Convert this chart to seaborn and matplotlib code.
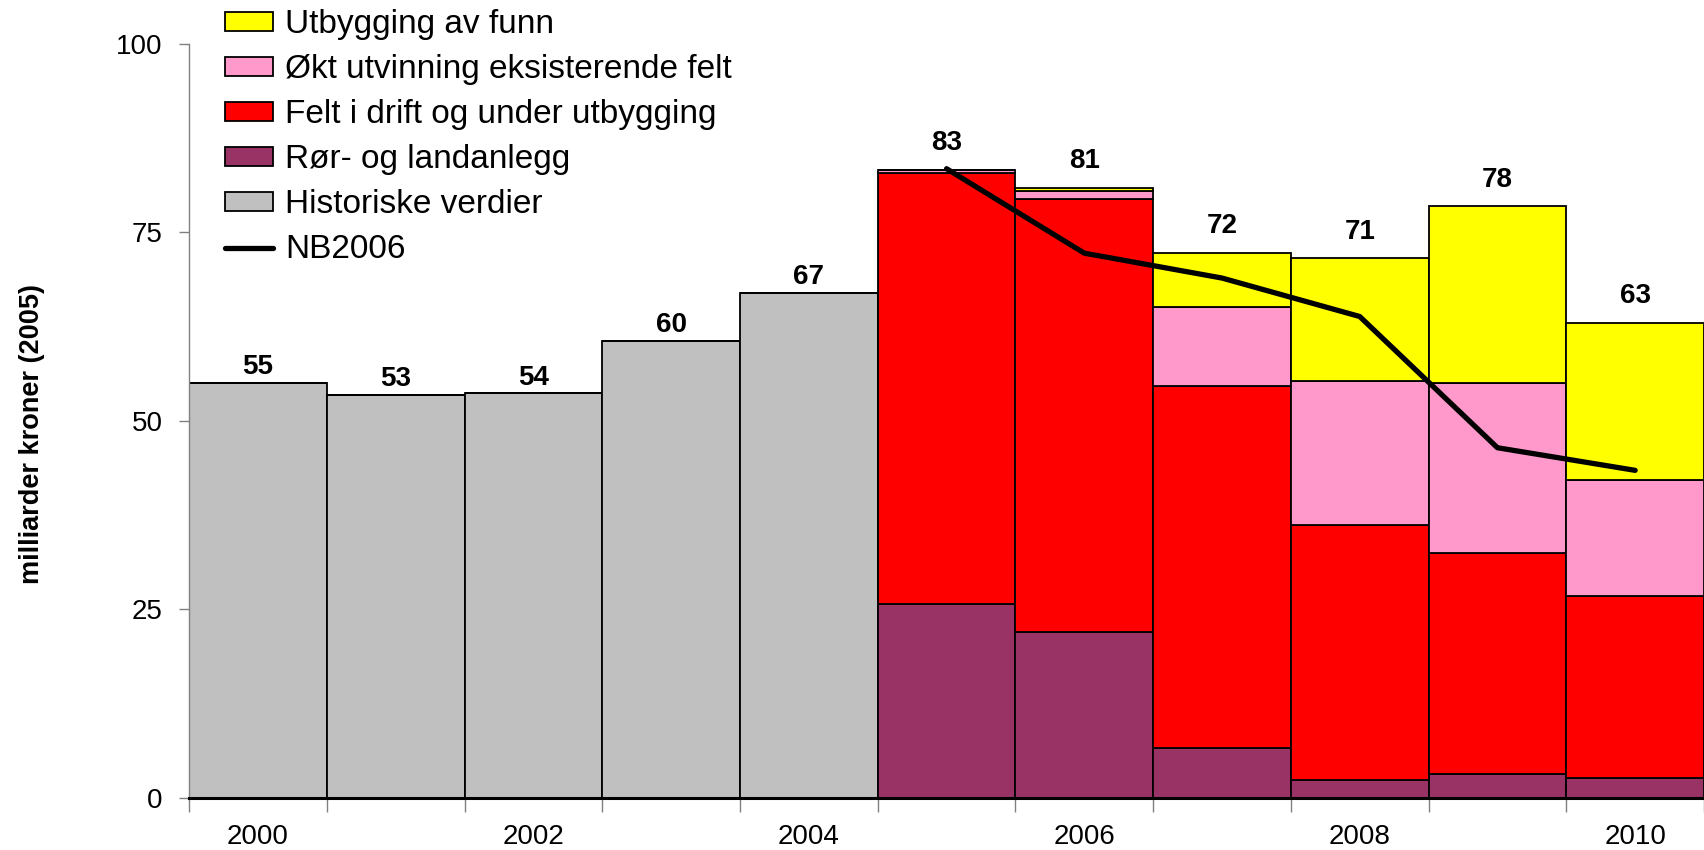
import matplotlib
matplotlib.use("Agg")
import matplotlib.pyplot as plt
import matplotlib.patches as mpatches
import matplotlib.lines as mlines
import seaborn as sns
import pandas as pd
import numpy as np

# data (milliarder kroner, 2005-kroner)
years = [2000, 2001, 2002, 2003, 2004, 2005, 2006, 2007, 2008, 2009, 2010]
historiske = [55.0, 53.4, 53.6, 60.6, 66.9, 0, 0, 0, 0, 0, 0]
ror = [0, 0, 0, 0, 0, 25.7, 22.0, 6.6, 2.3, 3.2, 2.6]
felt = [0, 0, 0, 0, 0, 57.1, 57.4, 48.0, 33.9, 29.2, 24.1]
okt = [0, 0, 0, 0, 0, 0.4, 1.0, 10.5, 19.0, 22.6, 15.4]
utbygging = [0, 0, 0, 0, 0, 0.0, 0.5, 7.1, 16.3, 23.4, 20.9]
bar_labels = ["55", "53", "54", "60", "67", "83", "81", "72", "71", "78", "63"]

nb_years = [2005, 2006, 2007, 2008, 2009, 2010]
nb2006 = [83.4, 72.2, 68.9, 63.8, 46.4, 43.4]

cats = ["Utbygging av funn", "Økt utvinning eksisterende felt",
        "Felt i drift og under utbygging", "Rør- og landanlegg",
        "Historiske verdier"]
colors = ["#FFFF00", "#FF99CC", "#FF0000", "#993366", "#C0C0C0"]

long = pd.DataFrame({
    "year": years * 5,
    "value": utbygging + okt + felt + ror + historiske,
    "kategori": np.repeat(cats, len(years)),
})

sns.set_style("white")
plt.rcParams["font.family"] = ["Liberation Sans", "DejaVu Sans"]
plt.rcParams["text.color"] = "black"
plt.rcParams["xtick.labelcolor"] = "black"
plt.rcParams["ytick.labelcolor"] = "black"

fig = plt.figure(figsize=(17.04, 8.5), dpi=100)
ax = fig.add_axes([0.111, 0.0616, 0.889, 0.8872])

sns.histplot(data=long, x="year", weights="value", hue="kategori",
             hue_order=cats, palette=dict(zip(cats, colors)),
             multiple="stack", discrete=True, shrink=1, element="bars",
             alpha=1, edgecolor="black", linewidth=1.3, legend=False, ax=ax)

sns.lineplot(x=nb_years, y=nb2006, color="black", linewidth=3.8, ax=ax)

totals = np.array(historiske) + np.array(ror) + np.array(felt) + np.array(okt) + np.array(utbygging)
for yr, tot, lab in zip(years, totals, bar_labels):
    off = 2 if yr < 2005 else 10
    ax.annotate(lab, (yr, tot), xytext=(0, off), textcoords="offset points",
                ha="center", va="bottom", fontsize=20, fontweight="bold",
                color="black")

ax.set_xlim(1999.5, 2010.46)
ax.set_ylim(0, 100)
ax.set_yticks([0, 25, 50, 75, 100])
ax.tick_params(axis="y", labelsize=20, length=7, width=1, color="#808080",
               direction="out", pad=12, left=True, labelcolor="black")
ax.set_xticks(np.arange(1999.5, 2011, 1))
ax.set_xticklabels([])
ax.tick_params(axis="x", which="major", length=10, width=1, color="#808080",
               direction="out", bottom=True)
ax.set_xticks([2000, 2002, 2004, 2006, 2008, 2010], minor=True)
ax.set_xticklabels(["2000", "2002", "2004", "2006", "2008", "2010"], minor=True)
ax.tick_params(axis="x", which="minor", length=0, labelsize=20, pad=19,
               labelcolor="black")
ax.set_xlabel("")
ax.set_ylabel("")
for s in ["top", "right"]:
    ax.spines[s].set_visible(False)
ax.spines["left"].set_color("#808080")
ax.spines["left"].set_linewidth(1)
ax.spines["bottom"].set_color("black")
ax.spines["bottom"].set_linewidth(2.2)
ax.spines["bottom"].set_zorder(5)

fig.text(0.019, 0.489, "milliarder kroner (2005)", rotation=90, ha="center",
         va="center", fontsize=19.5, fontweight="bold", color="black")

handles = [mpatches.Patch(facecolor=c, edgecolor="black", linewidth=1.3, label=l)
           for c, l in zip(colors, cats)]
handles.append(mlines.Line2D([], [], color="black", linewidth=3.8, label="NB2006"))
leg = fig.legend(handles=handles, loc="upper left", bbox_to_anchor=(0.132, 0.989),
                 frameon=False, fontsize=24, handlelength=1.45, handleheight=0.5,
                 handletextpad=0.35, labelspacing=0.42, borderpad=0, borderaxespad=0)
for t in leg.get_texts():
    t.set_color("black")

fig.savefig("out.png", dpi=100)
